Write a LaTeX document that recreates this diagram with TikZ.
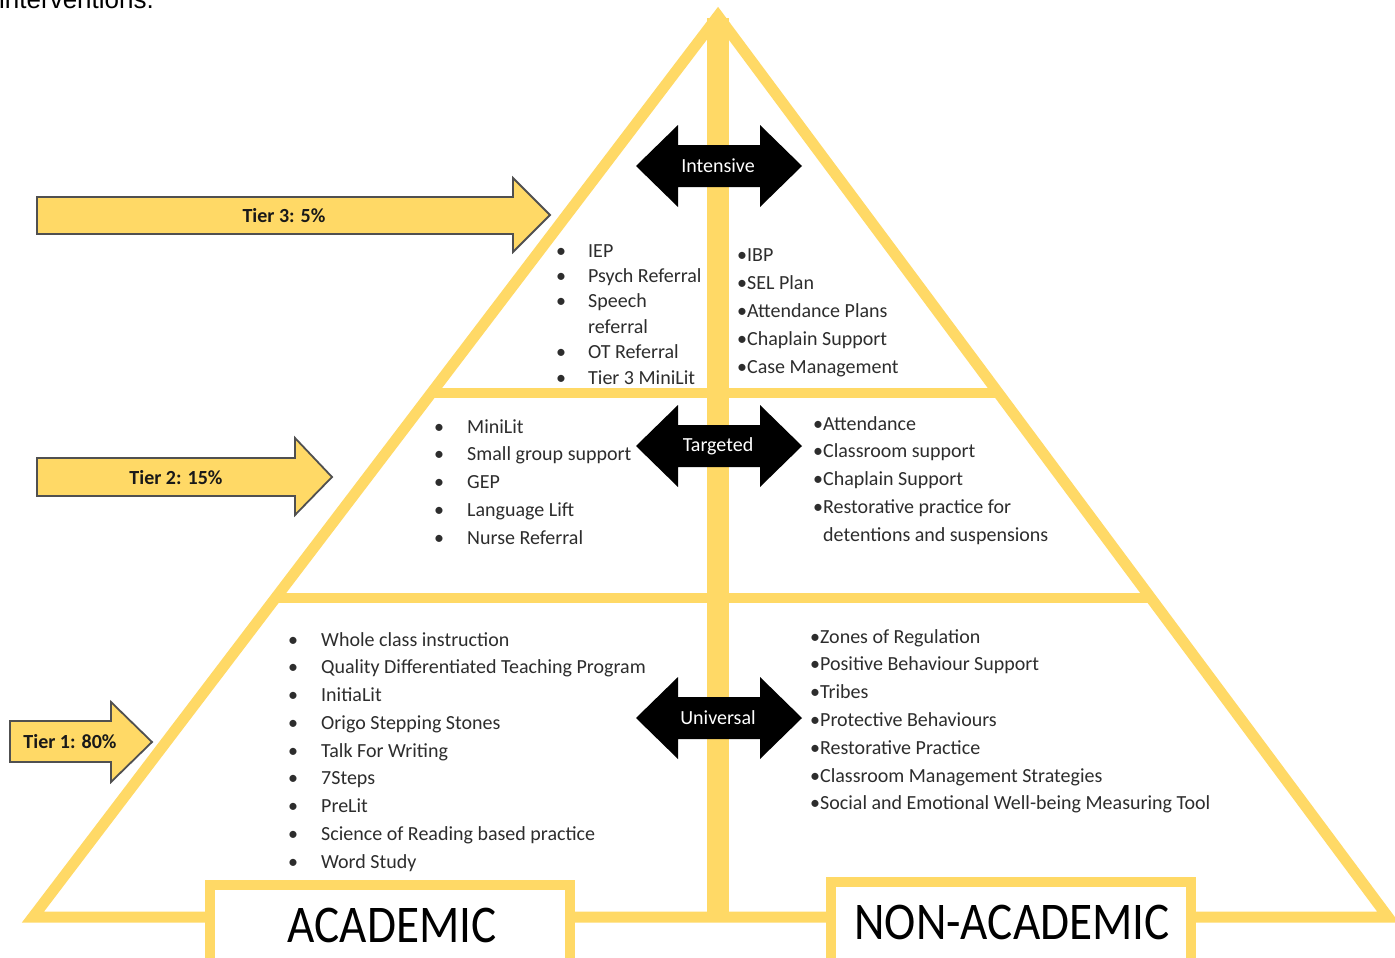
\documentclass[tikz,border=0pt]{standalone}
\usepackage{fontspec}
\setmainfont{Carlito}
\newfontfamily\arialfont{Liberation Sans}
\definecolor{gold}{RGB}{255,217,102}
\definecolor{txt}{RGB}{45,45,45}
\definecolor{arrowline}{RGB}{80,80,80}
\begin{document}
\begin{tikzpicture}[x=1pt,y=-1pt,
  frame/.style={draw=gold,line width=11pt,line join=miter},
  divider/.style={draw=gold,line width=10pt},
  labelbox/.style={draw=gold,line width=10pt,fill=white},
  tierarrow/.style={fill=gold,draw=arrowline,line width=1.8pt,line join=miter},
  tierlbl/.style={font=\fontsize{20}{24}\selectfont\bfseries,text=black!90,inner sep=0},
  dlabel/.style={font=\fontsize{20}{24}\selectfont,text=white,inner sep=0},
  item/.style={anchor=base west,inner sep=0,font=\fontsize{20}{24}\selectfont,text=txt},
  bigtxt/.style={font=\fontsize{53}{60}\selectfont,text=black,inner sep=0}
]
\useasboundingbox (0,0) rectangle (1395,958);
\fill[white] (0,0) rectangle (1395,958);

% cut-off caption at top
\node[anchor=base west,inner sep=0,font=\arialfont\fontsize{26}{30}\selectfont] (intro) at (-1,9) {interventions.};

% pyramid
\draw[frame] (33,917) -- (718,16) -- (1388,917) -- cycle;
\fill[gold] (707,18) rectangle (729,921);
\draw[divider] (431,393) -- (998,393);
\draw[divider] (275,598) -- (1151,598);

% bottom label boxes
\draw[labelbox] (210,885) rectangle (570,975);
\draw[labelbox] (831,882) rectangle (1191,975);
\node[bigtxt] (acad) at (392,925) {\scalebox{0.89}[1]{ACADEMIC}};
\node[bigtxt] (nonacad) at (1012,922) {\scalebox{0.89}[1]{NON-ACADEMIC}};

% tier arrows
\draw[tierarrow] (37,197) -- (513,197) -- (513,178) -- (550,215) -- (513,252) -- (513,234) -- (37,234) -- cycle;
\node[tierlbl] (t3) at (284,216) {Tier 3: 5\%};
\draw[tierarrow] (37,458) -- (295,458) -- (295,438) -- (332,477) -- (295,515) -- (295,496) -- (37,496) -- cycle;
\node[tierlbl] (t2) at (176,478) {Tier 2: 15\%};
\draw[tierarrow] (10,721) -- (111,721) -- (111,702) -- (152,742) -- (111,782) -- (111,762) -- (10,762) -- cycle;
\node[tierlbl] (t1) at (70,742) {Tier 1: 80\%};

% black double arrows
\foreach \cy/\lbl/\nm in {166/Intensive/int,446/Targeted/tgt,718/Universal/uni}{
  \fill[black] (636,\cy) -- (678,\cy-41) -- (678,\cy-21) -- (760,\cy-21) -- (760,\cy-41)
    -- (802,\cy) -- (760,\cy+41) -- (760,\cy+21) -- (678,\cy+21) -- (678,\cy+41) -- cycle;
  \node[dlabel] (\nm) at (718,\cy) {\lbl};
}

% Tier 3 academic
\foreach \t [count=\i from 0] in {IEP,Psych Referral,Speech,referral,OT Referral,Tier 3 MiniLit}
  \node[item] (a3-\i) at (588,257+25.4*\i) {\t};
\foreach \i in {0,1,2,4,5}
  \node[item] (b3-\i) at (556,257+25.4*\i) {•};
% Tier 3 non-academic
\foreach \t [count=\i from 0] in {IBP,SEL Plan,Attendance Plans,Chaplain Support,Case Management}
  \node[item] (n3-\i) at (737,261+28*\i) {•\t};

% Tier 2 academic
\foreach \t [count=\i from 0] in {MiniLit,Small group support,GEP,Language Lift,Nurse Referral}{
  \node[item] (a2-\i) at (467,433+27.8*\i) {\t};
  \node[item] (b2-\i) at (434,433+27.8*\i) {•};
}
% Tier 2 non-academic
\foreach \t [count=\i from 0] in {Attendance,Classroom support,Chaplain Support,Restorative practice for}
  \node[item] (n2-\i) at (813,430+27.8*\i) {•\t};
\node[item] (n2-4) at (823,541) {detentions and suspensions};

% Tier 1 academic
\foreach \t [count=\i from 0] in {Whole class instruction,Quality Differentiated Teaching Program,InitiaLit,Origo Stepping Stones,Talk For Writing,7Steps,PreLit,Science of Reading based practice,Word Study}{
  \node[item] (a1-\i) at (321,646+27.75*\i) {\t};
  \node[item] (b1-\i) at (288,646+27.75*\i) {•};
}
% Tier 1 non-academic
\foreach \t [count=\i from 0] in {Zones of Regulation,Positive Behaviour Support,Tribes,Protective Behaviours,Restorative Practice,Classroom Management Strategies,Social and Emotional Well-being Measuring Tool}
  \node[item] (n1-\i) at (810,643+27.8*\i) {•\t};
\end{tikzpicture}
\end{document}
